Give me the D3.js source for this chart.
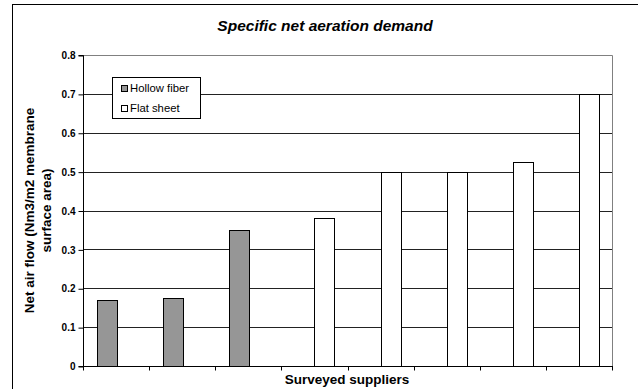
<!DOCTYPE html>
<html><head><meta charset="utf-8">
<script src="https://cdn.jsdelivr.net/npm/d3@7"></script>
<style>
html,body{margin:0;padding:0;background:#fff;}
svg{display:block;font-family:"Liberation Sans",Arial,sans-serif;}
</style></head>
<body>
<script>
const categories = ["1","2","3","4","5","6","7","8"];
const seriesNames = ["Hollow fiber","Flat sheet"];
const hollowFiber = [0.17, 0.175, 0.35, 0, 0, 0, 0, 0];
const flatSheet   = [0, 0, 0, 0.38, 0.50, 0.50, 0.525, 0.70];
const yTicks = [0, 0.1, 0.2, 0.3, 0.4, 0.5, 0.6, 0.7, 0.8];
const yTickLabels = ["0","0.1","0.2","0.3","0.4","0.5","0.6","0.7","0.8"];
const colors = ["#969696", "#ffffff"];

const W = 638, H = 389;
const svg = d3.select("body").append("svg").attr("width", W).attr("height", H);

// outer frame
svg.append("rect").attr("x", 12.5).attr("y", 4.5).attr("width", 700).attr("height", 500)
  .attr("fill", "none").attr("stroke", "#000").attr("stroke-width", 1);

const L = 83, R = 612, T = 55, B = 366;
const x = d3.scaleBand().domain(categories).range([L, R]).padding(0);
const bw = x.bandwidth();
const barW = bw * 0.295;
const x1 = d3.scaleBand().domain(seriesNames).range([bw / 2 - barW, bw / 2 + barW]).padding(0);
const y = d3.scaleLinear().domain([0, 0.8]).range([B, T]);

// gridlines
svg.append("g").selectAll("line").data(yTicks.filter(v => v > 0 && v < 0.8)).join("line")
  .attr("x1", L).attr("x2", R)
  .attr("y1", d => Math.round(y(d)) + 0.5).attr("y2", d => Math.round(y(d)) + 0.5)
  .attr("stroke", "#222").attr("stroke-width", 1);

// plot border top & right
svg.append("path")
  .attr("d", `M${L},${Math.round(y(0.8)) + 0.5}H${R + 0.5}V${B}`)
  .attr("fill", "none").attr("stroke", "#808080").attr("stroke-width", 1);

// bars
const rows = categories.map((c, i) => ({cat: c, vals: [hollowFiber[i], flatSheet[i]]}));
const g = svg.append("g");
rows.forEach(r => {
  r.vals.forEach((v, j) => {
    if (v <= 0) return;
    g.append("rect")
      .attr("x", Math.round(x(r.cat) + x1(seriesNames[j])) + 0.5)
      .attr("y", Math.round(y(v)) + 0.5)
      .attr("width", Math.round(x1.bandwidth()))
      .attr("height", Math.round(y(0)) - Math.round(y(v)))
      .attr("fill", colors[j]).attr("stroke", "#000").attr("stroke-width", 1);
  });
});

// y axis
const yAxis = d3.axisLeft(y).tickValues(yTicks).tickSize(5).tickPadding(3)
  .tickFormat((d, i) => yTickLabels[i]);
const ya = svg.append("g").attr("transform", `translate(${L + 0.5},0.5)`).call(yAxis);
ya.select(".domain").attr("d", `M-5,${T}H0V${B}H-5`).attr("stroke", "#000");
ya.selectAll(".tick line").attr("stroke", "#000");
ya.selectAll("text").attr("font-size", "10px").attr("font-weight", "bold").attr("fill", "#000")
  .attr("font-family", "Liberation Sans, Arial, sans-serif");

// x axis
const xa = svg.append("g").attr("transform", `translate(0,${B + 0.5})`);
xa.append("line").attr("x1", L).attr("x2", R + 1).attr("y1", 0).attr("y2", 0).attr("stroke", "#000");
const edges = categories.map(c => x(c)).concat([R]);
xa.selectAll("line.tk").data(edges).join("line").attr("class", "tk")
  .attr("x1", d => Math.round(d) + 0.5).attr("x2", d => Math.round(d) + 0.5)
  .attr("y1", 0).attr("y2", 4).attr("stroke", "#000");

// title
svg.append("text").attr("x", 325).attr("y", 31).attr("text-anchor", "middle")
  .attr("font-size", "15.5px").attr("font-weight", "bold").attr("font-style", "italic")
  .text("Specific net aeration demand");

// x label
svg.append("text").attr("x", 347).attr("y", 384).attr("text-anchor", "middle")
  .attr("font-size", "13.5px").attr("font-weight", "bold").text("Surveyed suppliers");

// y label
const yl = svg.append("text").attr("transform", `translate(34,${(T + B) / 2}) rotate(-90)`)
  .attr("text-anchor", "middle").attr("font-size", "13.5px").attr("font-weight", "bold");
yl.append("tspan").attr("x", 0).attr("y", 0).text("Net air flow (Nm3/m2 membrane");
yl.append("tspan").attr("x", 0).attr("y", 17).text("surface area)");

// legend
const lg = svg.append("g");
lg.append("rect").attr("x", 112.5).attr("y", 77.5).attr("width", 88).attr("height", 41)
  .attr("fill", "#fff").attr("stroke", "#000");
seriesNames.forEach((s, i) => {
  const by = [92, 111.5][i];
  lg.append("rect").attr("x", 121.5).attr("y", Math.round(by) - 6.5).attr("width", 6).attr("height", 6)
    .attr("fill", colors[i]).attr("stroke", "#000");
  lg.append("text").attr("x", 130).attr("y", by).attr("font-size", "11.3px").text(s);
});
</script>
</body></html>
